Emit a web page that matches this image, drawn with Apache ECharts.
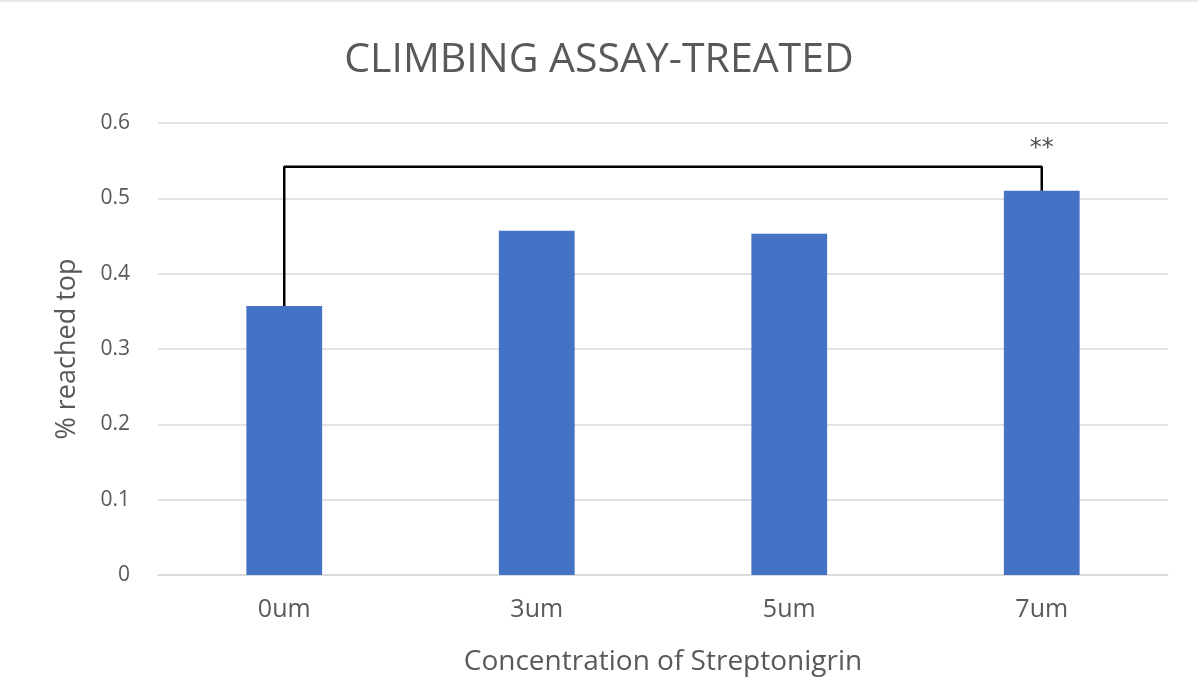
<!DOCTYPE html>
<html><head><meta charset="utf-8">
<script src="https://cdn.jsdelivr.net/npm/echarts@6/dist/echarts.min.js"></script>
<style>html,body{margin:0;padding:0;background:#fff;}#c{width:1198px;height:698px;}</style>
</head><body><div id="c"></div>
<script>
const categories = ['0um', '3um', '5um', '7um'];
const values = [0.357, 0.457, 0.453, 0.510];
const bracketLevel = 0.542;
const starLevel = 0.566;
const starText = '**';

const FONT = '"Open Sans", "Liberation Sans", sans-serif';
const chart = echarts.init(document.getElementById('c'));
chart.setOption({
  backgroundColor: '#ffffff',
  animation: false,
  graphic: [{ type: 'rect', left: 0, top: 0, shape: { width: 1198, height: 2 }, style: { fill: '#e6e9ee' } }],
  title: {
    text: 'CLIMBING ASSAY-TREATED', left: 'center', top: 35,
    textStyle: { fontFamily: FONT, fontSize: 41, fontWeight: 'normal', color: '#595959' }
  },
  grid: { left: 158, right: 30, top: 123, bottom: 123 },
  xAxis: {
    type: 'category', data: categories,
    axisLine: { lineStyle: { color: '#d9d9d9', width: 1.5 } },
    axisTick: { show: false },
    axisLabel: { color: '#595959', fontFamily: FONT, fontSize: 25, margin: 22 },
    name: 'Concentration of Streptonigrin', nameLocation: 'middle', nameGap: 73,
    nameTextStyle: { color: '#595959', fontFamily: FONT, fontSize: 28 }
  },
  yAxis: {
    type: 'value', min: 0, max: 0.6, interval: 0.1,
    axisLine: { show: false }, axisTick: { show: false },
    splitLine: { lineStyle: { color: '#d9d9d9', width: 1.5 } },
    axisLabel: { color: '#595959', fontFamily: FONT, fontSize: 21, margin: 28,
      formatter: v => (Math.round(v * 10) / 10).toString() },
    name: '% reached top', nameLocation: 'middle', nameGap: 77,
    nameTextStyle: { color: '#595959', fontFamily: FONT, fontSize: 27 }
  },
  series: [
    {
      type: 'bar', data: values, barWidth: '30%',
      itemStyle: { color: '#4472c4' }
    },
    {
      type: 'line',
      data: [[categories[0], values[0]], [categories[0], bracketLevel], [categories[3], bracketLevel], [categories[3], values[3]]],
      symbol: 'none', lineStyle: { color: '#000', width: 2.5 }, z: 5
    },
    {
      type: 'scatter', data: [[categories[3], starLevel]], symbolSize: 0,
      label: { show: true, formatter: starText, position: 'inside', color: '#222', fontSize: 24, fontFamily: '"DejaVu Sans", sans-serif' }
    }
  ]
});
</script></body></html>
